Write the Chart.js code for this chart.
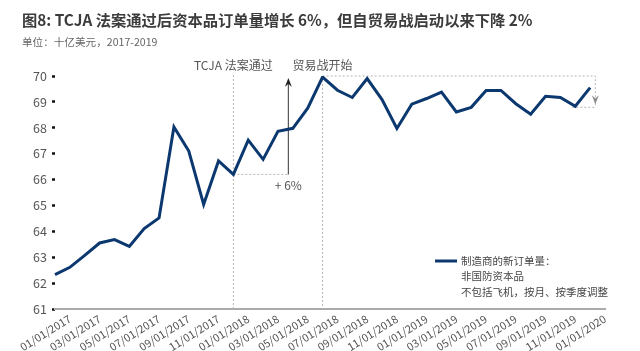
<!DOCTYPE html>
<html>
<head>
<meta charset="utf-8">
<script src="https://cdn.jsdelivr.net/npm/chart.js@4"></script>
<style>
  body { margin: 0; background: #fff; }
  #wrap { width: 640px; height: 351px; }
</style>
</head>
<body>
<div id="wrap"><canvas id="chart" width="640" height="351"></canvas></div>
<script>
// 月份（每月1日）
const months = [
  '12/01/2016',
  '01/01/2017', '02/01/2017', '03/01/2017', '04/01/2017', '05/01/2017', '06/01/2017',
  '07/01/2017', '08/01/2017', '09/01/2017', '10/01/2017', '11/01/2017', '12/01/2017',
  '01/01/2018', '02/01/2018', '03/01/2018', '04/01/2018', '05/01/2018', '06/01/2018',
  '07/01/2018', '08/01/2018', '09/01/2018', '10/01/2018', '11/01/2018', '12/01/2018',
  '01/01/2019', '02/01/2019', '03/01/2019', '04/01/2019', '05/01/2019', '06/01/2019',
  '07/01/2019', '08/01/2019', '09/01/2019', '10/01/2019', '11/01/2019', '12/01/2019',
  '01/01/2020'
];

// 制造商新订单量：非国防资本品（不含飞机），十亿美元
const orders = [
  62.33,
  62.61, 63.07, 63.55, 63.68, 63.42, 64.11,
  64.52, 68.03, 67.10, 65.04, 66.72, 66.20,
  67.52, 66.78, 67.86, 67.98, 68.76, 69.96,
  69.45, 69.17, 69.90, 69.09, 67.97, 68.91,
  69.13, 69.38, 68.61, 68.79, 69.44, 69.44,
  68.93, 68.52, 69.22, 69.17, 68.83, 69.55,
  null
];

const yTicks = [61, 62, 63, 64, 65, 66, 67, 68, 69, 70];

const titleText = '图8: TCJA 法案通过后资本品订单量增长 6%，但自贸易战启动以来下降 2%';
const subtitleText = '单位：十亿美元，2017-2019';
const legendLines = ['制造商的新订单量：', '非国防资本品', '不包括飞机，按月、按季度调整'];

const tcjaMonth = '12/01/2017';
const tradeWarMonth = '06/01/2018';

const lineColor = '#0c3870';
const font = '"Noto Sans CJK SC", "Noto Sans", sans-serif';

function arrowHead(ctx, x, y, dir, w, h, color) {
  ctx.fillStyle = color;
  ctx.beginPath();
  ctx.moveTo(x, y);
  ctx.lineTo(x - w / 2, y - dir * h);
  ctx.lineTo(x, y - dir * h * 0.65);
  ctx.lineTo(x + w / 2, y - dir * h);
  ctx.closePath();
  ctx.fill();
}

const notes = {
  id: 'notes',
  beforeDatasetsDraw(chart) {
    const ctx = chart.ctx;
    const xs = chart.scales.x, ys = chart.scales.y;
    const area = chart.chartArea;
    const iT = months.indexOf(tcjaMonth);
    const iW = months.indexOf(tradeWarMonth);
    const xT = xs.getPixelForValue(iT);
    const xW = xs.getPixelForValue(iW);
    const yT = ys.getPixelForValue(orders[iT]);
    const yTop = ys.getPixelForValue(70);
    const xR = xs.getPixelForValue(months.length - 1.65);
    const xL = xs.getPixelForValue(months.length - 3.2);
    const yLow = ys.getPixelForValue(68.79);
    const xA = xs.getPixelForValue(15.7);

    ctx.save();
    ctx.strokeStyle = '#b5b5b5';
    ctx.lineWidth = 1;
    ctx.setLineDash([2, 2]);
    ctx.beginPath();
    // TCJA
    ctx.moveTo(xT, yTop - 1); ctx.lineTo(xT, area.bottom);
    ctx.moveTo(xT, yT); ctx.lineTo(xA, yT);
    // 贸易战
    ctx.moveTo(xW, yTop); ctx.lineTo(xW, area.bottom);
    ctx.moveTo(xW, yTop); ctx.lineTo(xR, yTop);
    ctx.lineTo(xR, yLow);
    ctx.moveTo(xL, yLow); ctx.lineTo(xR, yLow);
    ctx.stroke();
    ctx.setLineDash([]);

    // +6% 箭头
    ctx.strokeStyle = '#555';
    ctx.lineWidth = 1.2;
    ctx.beginPath();
    ctx.moveTo(xA, yT); ctx.lineTo(xA, yTop + 6);
    ctx.stroke();
    arrowHead(ctx, xA, yTop + 2, -1, 7, 9, '#222');

    // -2% 箭头
    arrowHead(ctx, xR, yLow - 3, 1, 7, 9, '#8a8a8a');

    ctx.fillStyle = '#555';
    ctx.font = '12px ' + font;
    ctx.textAlign = 'center';
    ctx.textBaseline = 'middle';
    ctx.fillText('+ 6%', xA, yT + 11);
    ctx.fillText('TCJA 法案通过', xT, yTop - 11);
    ctx.fillText('贸易战开始', xW, yTop - 11);
    ctx.restore();
  },
  afterDraw(chart) {
    const ctx = chart.ctx;
    ctx.save();
    ctx.textAlign = 'left';
    ctx.textBaseline = 'middle';
    ctx.fillStyle = '#3c3c3c';
    ctx.font = 'bold 15.3px ' + font;
    ctx.fillText(titleText, 22, 20);
    ctx.fillStyle = '#666';
    ctx.font = '10.6px ' + font;
    ctx.fillText(subtitleText, 22, 42);

    // 图例
    ctx.strokeStyle = lineColor;
    ctx.lineWidth = 3;
    ctx.beginPath();
    ctx.moveTo(435, 261); ctx.lineTo(457, 261);
    ctx.stroke();
    ctx.fillStyle = '#444';
    ctx.font = '10.5px ' + font;
    legendLines.forEach((t, i) => ctx.fillText(t, 461, 261 + i * 15.5));
    ctx.restore();
  }
};

new Chart(document.getElementById('chart'), {
  type: 'line',
  data: {
    labels: months,
    datasets: [{
      label: legendLines.join(''),
      data: orders,
      borderColor: lineColor,
      borderWidth: 3,
      pointRadius: 0,
      tension: 0,
      spanGaps: false
    }]
  },
  options: {
    responsive: false,
    animation: false,
    layout: { padding: { top: 76, right: 35, left: 0, bottom: 0 } },
    plugins: {
      legend: { display: false },
      tooltip: { enabled: false }
    },
    scales: {
      x: {
        offset: false,
        grid: { display: false, drawTicks: false },
        border: { display: true, color: '#aaa', width: 2 },
        ticks: {
          autoSkip: false,
          minRotation: 32,
          maxRotation: 32,
          padding: 3,
          color: '#555',
          font: { size: 11, family: font },
          callback: function(v, i) { return i % 2 === 1 ? months[i] : null; }
        },
        afterFit: function(axis) { axis.height = 42; }
      },
      y: {
        min: 61,
        max: 70,
        afterBuildTicks: function(axis) { axis.ticks = yTicks.map(v => ({ value: v })); },
        grid: { drawOnChartArea: false, drawTicks: true, tickLength: 3, tickWidth: 2.5, tickColor: '#111' },
        border: { display: false },
        ticks: {
          padding: 5,
          color: '#555',
          font: { size: 12.5, family: font }
        },
        afterFit: function(axis) { axis.width = 55; }
      }
    }
  },
  plugins: [notes]
});
</script>
</body>
</html>
